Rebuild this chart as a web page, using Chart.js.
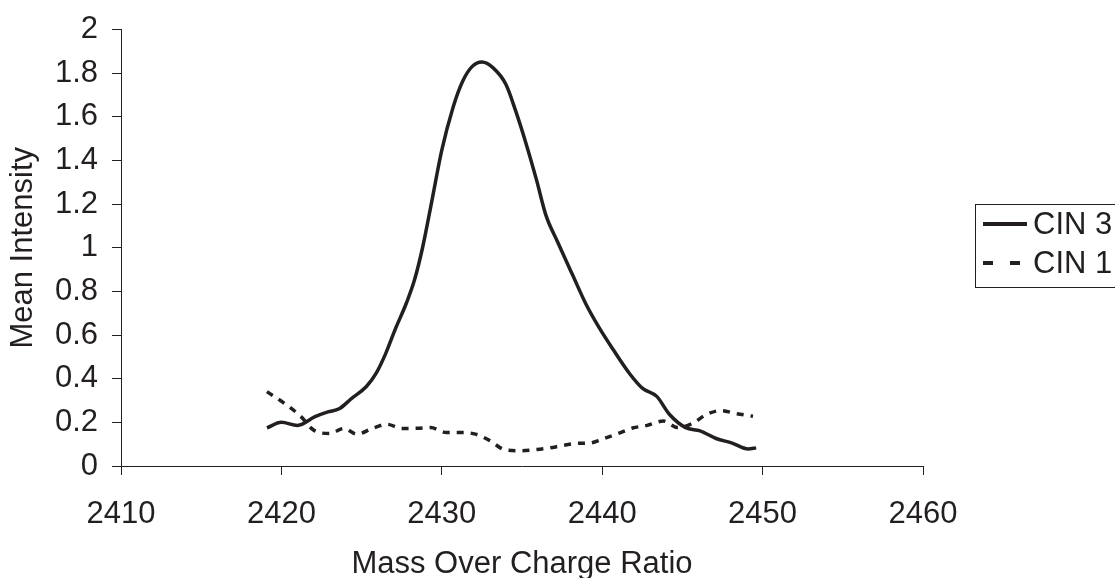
<!DOCTYPE html>
<html>
<head>
<meta charset="utf-8">
<script src="https://cdn.jsdelivr.net/npm/chart.js@4/dist/chart.umd.min.js"></script>
<style>
html,body{margin:0;padding:0;background:#fff;overflow:hidden;}
#wrap{width:1115px;height:578px;position:relative;}
</style>
</head>
<body>
<div id="wrap"><canvas id="c" width="1115" height="578"></canvas></div>
<script>
const seriesNames = ['CIN 3', 'CIN 1'];
const massCIN3 = [2419.1,2420.0,2421.0,2422.1,2422.9,2423.6,2424.4,2425.3,2425.9,2426.5,2427.1,2427.8,2428.3,2428.8,2429.4,2430.0,2430.7,2431.3,2431.9,2432.5,2433.2,2434.0,2434.6,2435.25,2435.9,2436.5,2437.2,2438.15,2439.0,2439.8,2440.65,2441.7,2442.5,2443.4,2444.2,2445.2,2446.1,2447.1,2448.1,2449.1,2449.6];
const intensityCIN3 = [0.175,0.20,0.186,0.226,0.248,0.262,0.311,0.364,0.424,0.515,0.627,0.748,0.853,1.00,1.222,1.447,1.643,1.763,1.831,1.851,1.824,1.748,1.628,1.478,1.312,1.147,1.03,0.876,0.740,0.635,0.537,0.424,0.357,0.319,0.236,0.176,0.161,0.126,0.105,0.078,0.083];
const massCIN1 = [2419.1,2420.3,2421.2,2422.0,2423.0,2423.9,2424.7,2425.7,2426.6,2427.5,2428.5,2429.3,2430.3,2431.3,2432.1,2433.0,2433.9,2434.8,2435.8,2436.7,2437.5,2438.5,2439.2,2440.0,2441.0,2441.9,2442.8,2443.8,2444.7,2445.6,2446.5,2447.4,2448.3,2449.4];
const intensityCIN1 = [0.341,0.281,0.228,0.165,0.149,0.172,0.146,0.173,0.191,0.172,0.173,0.176,0.153,0.153,0.146,0.116,0.075,0.070,0.075,0.083,0.093,0.104,0.105,0.123,0.149,0.174,0.186,0.206,0.176,0.194,0.236,0.254,0.241,0.228];
const xTicks = [2410,2420,2430,2440,2450,2460];
const yTicks = [0,0.2,0.4,0.6,0.8,1,1.2,1.4,1.6,1.8,2];

const INK = '#231f20';
const FONT = "'Liberation Sans', Arial, sans-serif";
const toPts = (xs, ys) => xs.map((x, i) => ({x: x, y: ys[i]}));
const plain = v => String(Math.round(v * 10) / 10);

const boxLegend = {
  id: 'boxLegend',
  afterDraw(chart) {
    const ctx = chart.ctx;
    ctx.save();
    ctx.strokeStyle = INK;
    ctx.lineWidth = 1;
    ctx.strokeRect(975.5, 204.5, 200, 83);
    const rows = [224, 263];
    chart.data.datasets.forEach((ds, i) => {
      const y = rows[i];
      ctx.strokeStyle = ds.borderColor;
      ctx.lineWidth = 4;
      ctx.setLineDash(i === 0 ? [] : [10, 17]);
      ctx.beginPath();
      ctx.moveTo(983, y);
      ctx.lineTo(1027, y);
      ctx.stroke();
      ctx.setLineDash([]);
      ctx.fillStyle = INK;
      ctx.font = '31px ' + FONT;
      ctx.textBaseline = 'middle';
      ctx.textAlign = 'left';
      ctx.fillText(ds.label, 1033, y + 1);
    });
    ctx.restore();
  }
};

new Chart(document.getElementById('c'), {
  type: 'scatter',
  data: {
    datasets: [
      {label: seriesNames[0], data: toPts(massCIN3, intensityCIN3), showLine: true, borderColor: INK, backgroundColor: INK, borderWidth: 3.5, pointRadius: 0, cubicInterpolationMode: 'monotone'},
      {label: seriesNames[1], data: toPts(massCIN1, intensityCIN1), showLine: true, borderColor: INK, backgroundColor: INK, borderWidth: 3.5, borderDash: [7, 7], pointRadius: 0, cubicInterpolationMode: 'monotone'}
    ]
  },
  options: {
    responsive: false,
    animation: false,
    devicePixelRatio: 1,
    layout: {padding: {left: 0, right: 192, top: 24, bottom: 0}},
    plugins: {legend: {display: false}, tooltip: {enabled: false}},
    scales: {
      x: {
        type: 'linear', min: 2410, max: 2460,
        afterBuildTicks: s => { s.ticks = xTicks.map(v => ({value: v})); },
        afterFit: s => { s.height = 112; },
        grid: {display: true, drawOnChartArea: false, drawTicks: true, tickLength: 9, color: INK, lineWidth: 1},
        border: {display: true, color: INK, width: 1},
        ticks: {color: INK, font: {family: FONT, size: 31, lineHeight: 1}, padding: 24, maxRotation: 0, callback: v => String(v)},
        title: {display: true, text: 'Mass Over Charge Ratio', color: INK, font: {family: FONT, size: 31, lineHeight: 1}, padding: {top: 0, bottom: -2}}
      },
      y: {
        type: 'linear', min: 0, max: 2,
        afterBuildTicks: s => { s.ticks = yTicks.map(v => ({value: v})); },
        afterFit: s => { s.width = 121; },
        grid: {display: true, drawOnChartArea: false, drawTicks: true, tickLength: 9, color: INK, lineWidth: 1},
        border: {display: true, color: INK, width: 1},
        ticks: {color: INK, font: {family: FONT, size: 31, lineHeight: 1}, padding: 14, callback: v => plain(v)},
        title: {display: true, text: 'Mean Intensity', color: INK, font: {family: FONT, size: 31, lineHeight: 1}, padding: {top: 8, bottom: 0}}
      }
    }
  },
  plugins: [boxLegend]
});
</script>
</body>
</html>
